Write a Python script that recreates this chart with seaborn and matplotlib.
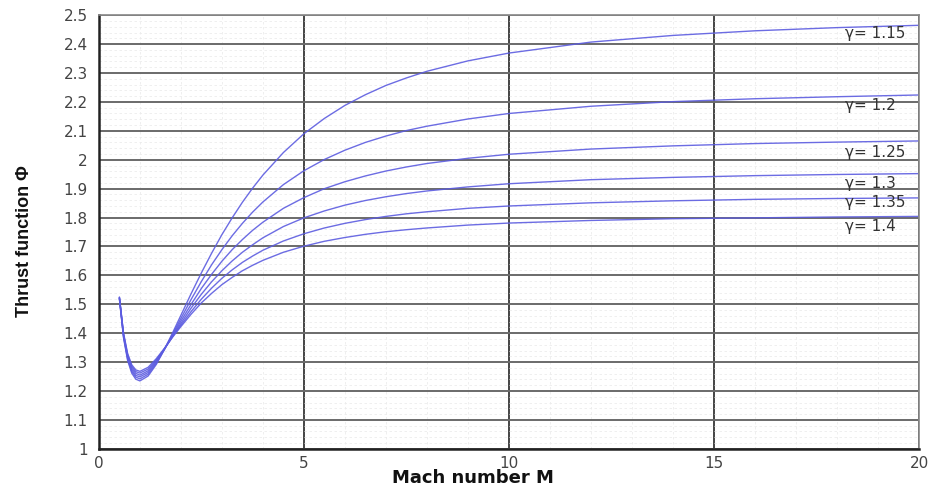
import numpy as np
import pandas as pd
import matplotlib
matplotlib.use("Agg")
import matplotlib.pyplot as plt
import seaborn as sns
from matplotlib.ticker import MultipleLocator

# Mach numbers at which the curves were read
mach = [0.5, 0.6, 0.7, 0.8, 0.9, 1.0, 1.2, 1.4, 1.6, 1.8, 2.0,
        2.25, 2.5, 2.75, 3.0, 3.25, 3.5, 3.75, 4.0,
        4.5, 5.0, 5.5, 6.0, 6.5, 7.0, 7.5, 8.0, 9.0,
        10.0, 12.0, 14.0, 16.0, 18.0, 20.0]

phi_115 = [1.519, 1.385, 1.306, 1.262, 1.241, 1.235, 1.252, 1.292, 1.345, 1.402, 1.462,
           1.537, 1.609, 1.677, 1.741, 1.799, 1.853, 1.902, 1.947,
           2.025, 2.090, 2.143, 2.188, 2.225, 2.257, 2.283, 2.306, 2.342,
           2.369, 2.407, 2.430, 2.446, 2.457, 2.465]
phi_120 = [1.520, 1.388, 1.311, 1.268, 1.248, 1.242, 1.258, 1.296, 1.344, 1.397, 1.451,
           1.517, 1.579, 1.637, 1.689, 1.737, 1.780, 1.819, 1.854,
           1.914, 1.962, 2.001, 2.033, 2.060, 2.082, 2.101, 2.116, 2.141,
           2.160, 2.185, 2.201, 2.211, 2.218, 2.224]
phi_125 = [1.522, 1.392, 1.316, 1.274, 1.254, 1.249, 1.264, 1.300, 1.345, 1.393, 1.442,
           1.500, 1.555, 1.604, 1.649, 1.689, 1.724, 1.756, 1.784,
           1.832, 1.869, 1.900, 1.924, 1.944, 1.961, 1.975, 1.987, 2.005,
           2.019, 2.037, 2.048, 2.056, 2.061, 2.065]
phi_130 = [1.523, 1.395, 1.321, 1.280, 1.261, 1.255, 1.270, 1.304, 1.346, 1.390, 1.434,
           1.487, 1.535, 1.578, 1.616, 1.650, 1.680, 1.706, 1.730,
           1.769, 1.799, 1.823, 1.843, 1.859, 1.872, 1.883, 1.892, 1.906,
           1.917, 1.931, 1.939, 1.945, 1.949, 1.952]
phi_135 = [1.524, 1.398, 1.326, 1.286, 1.267, 1.262, 1.276, 1.308, 1.347, 1.388, 1.428,
           1.475, 1.518, 1.556, 1.590, 1.619, 1.645, 1.667, 1.687,
           1.719, 1.744, 1.764, 1.780, 1.793, 1.804, 1.813, 1.820, 1.832,
           1.840, 1.851, 1.858, 1.863, 1.866, 1.868]
phi_140 = [1.525, 1.401, 1.330, 1.291, 1.273, 1.268, 1.282, 1.312, 1.348, 1.387, 1.423,
           1.466, 1.505, 1.538, 1.568, 1.593, 1.616, 1.635, 1.652,
           1.680, 1.701, 1.718, 1.731, 1.742, 1.751, 1.758, 1.764, 1.774,
           1.781, 1.790, 1.796, 1.799, 1.802, 1.804]

gammas = ["1.15", "1.2", "1.25", "1.3", "1.35", "1.4"]
series = [phi_115, phi_120, phi_125, phi_130, phi_135, phi_140]
label_y = [2.437, 2.188, 2.025, 1.918, 1.852, 1.769]
label_x = 18.2
y_ticks = [1.0, 1.1, 1.2, 1.3, 1.4, 1.5, 1.6, 1.7, 1.8, 1.9, 2.0, 2.1, 2.2, 2.3, 2.4, 2.5]
y_tick_labels = ["1", "1.1", "1.2", "1.3", "1.4", "1.5", "1.6", "1.7", "1.8", "1.9",
                 "2", "2.1", "2.2", "2.3", "2.4", "2.5"]

df = pd.concat([pd.DataFrame({"M": mach, "Phi": s, "gamma": g})
                for g, s in zip(gammas, series)], ignore_index=True)

sns.set_theme(style="white")
plt.rcParams["font.family"] = ["DejaVu Sans"]

fig = plt.figure(figsize=(9.33, 4.9), dpi=100)
ax = fig.add_axes([0.106, 0.084, 0.879, 0.885])

line_col = "#5c5ce0"
sns.lineplot(data=df, x="M", y="Phi", hue="gamma",
             palette=[line_col] * len(gammas), linewidth=1.0, alpha=0.9,
             legend=False, ax=ax, sort=False)

ax.set_xlim(0, 20)
ax.set_ylim(1, 2.5)
ax.xaxis.set_major_locator(MultipleLocator(5))
ax.xaxis.set_minor_locator(MultipleLocator(1))
ax.yaxis.set_minor_locator(MultipleLocator(0.02))
ax.set_yticks(y_ticks)
ax.set_yticklabels(y_tick_labels)

ax.xaxis.grid(True, which="major", color="#444444", linewidth=1.4)
ax.yaxis.grid(True, which="major", color="#6a6a6a", linewidth=1.4)
ax.grid(which="minor", color="#ececec", linewidth=0.6, linestyle=(0, (3, 3)))
ax.set_axisbelow(True)

ax.tick_params(axis="both", which="major", direction="in", length=14, width=1.6,
               color="#333333", labelsize=11, labelcolor="#444444")
ax.tick_params(axis="both", which="minor", direction="in", length=6, width=1.0,
               color="#444444")
ax.tick_params(axis="y", which="major", pad=8)
ax.tick_params(axis="x", which="major", pad=5)

for side in ["left", "bottom"]:
    ax.spines[side].set_color("#222222")
    ax.spines[side].set_linewidth(1.8)
for side in ["top", "right"]:
    ax.spines[side].set_color("#888888")
    ax.spines[side].set_linewidth(1.2)

ax.set_xlabel("Mach number M", fontsize=13, fontweight="bold", color="#111111")
ax.xaxis.set_label_coords(0.456, -0.047)
ax.set_ylabel("Thrust function \u03a6", fontsize=13, fontweight="bold",
              color="#111111", family=["Liberation Sans", "DejaVu Sans"])
ax.yaxis.set_label_coords(-0.08, 0.48)

for g, yv in zip(gammas, label_y):
    ax.text(label_x, yv, "\u03b3= " + g, fontsize=11, color="#333333",
            ha="left", va="center")

fig.savefig("out.png", dpi=100, facecolor="white")
